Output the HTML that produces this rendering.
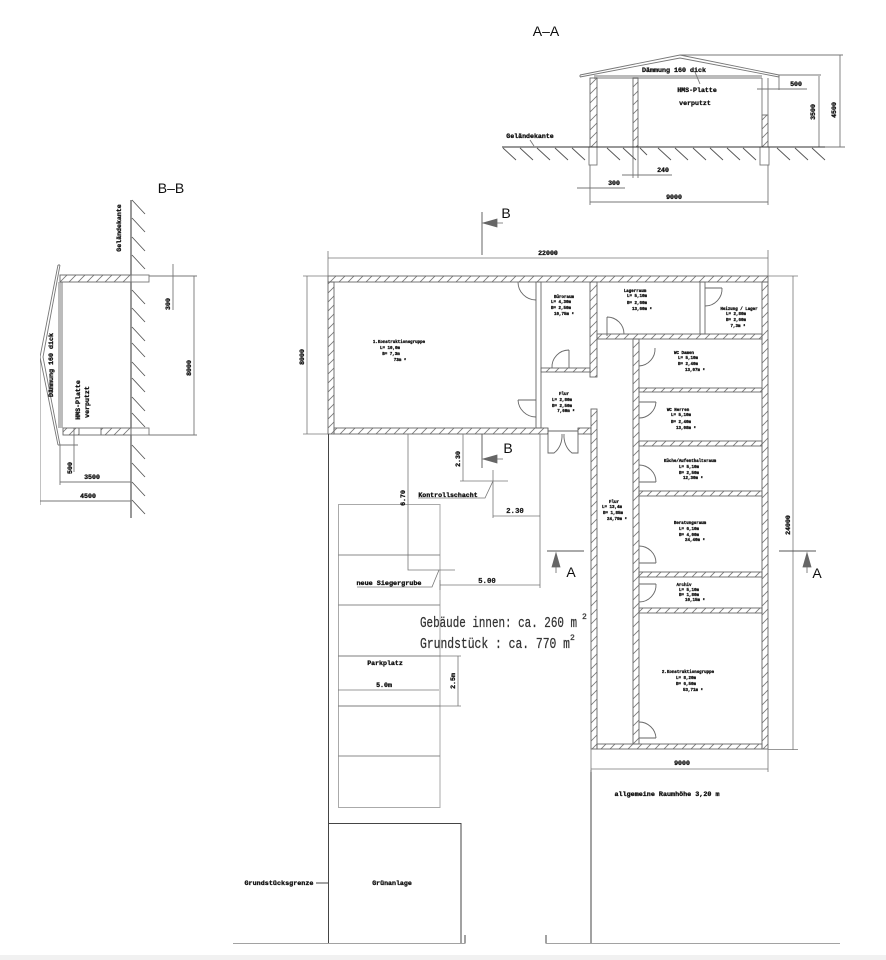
<!DOCTYPE html>
<html><head><meta charset="utf-8"><style>
html,body{margin:0;padding:0;background:#fff}
svg{display:block}
text{font-family:"Liberation Mono",monospace;font-weight:bold;fill:#111;text-anchor:middle}
.s{font-size:6.6px;stroke:#111;stroke-width:.3}
.t{font-size:4.15px;stroke:#111;stroke-width:.3}
.d{font-size:7.4px;stroke:#333;stroke-width:.25}
.b{font-family:"Liberation Sans",sans-serif;font-weight:normal;font-size:14px}
.m{font-weight:normal;font-size:15px;text-anchor:start;fill:#333;stroke:#333;stroke-width:.25}
</style></head><body>
<svg width="886" height="960" viewBox="0 0 886 960" xmlns="http://www.w3.org/2000/svg">
<defs>
<pattern id="h" width="9" height="9" patternUnits="userSpaceOnUse"><path d="M0 9L9 0M-1 1L1 -1M8 10L10 8" stroke="#777" stroke-width=".8"/></pattern>
<filter id="bl" x="0" y="0" width="100%" height="100%"><feGaussianBlur stdDeviation=".35"/></filter>
</defs>
<rect width="886" height="960" fill="#fff"/>
<rect y="955" width="886" height="5" fill="#f1f1f1"/>
<g filter="url(#bl)">
<!-- plan walls -->
<g fill="url(#h)" stroke="#666" stroke-width=".9">
<rect x="328" y="276" width="440" height="6"/>
<rect x="328" y="282" width="6" height="152"/>
<rect x="334" y="428" width="214" height="6"/>
<rect x="578" y="428" width="13" height="6"/>
<rect x="541" y="368" width="49" height="4"/>
<rect x="590" y="282" width="7" height="95"/>
<rect x="597" y="334" width="165" height="5"/>
<rect x="762" y="282" width="6" height="467"/>
<rect x="633" y="339" width="6" height="405"/>
<rect x="591" y="409" width="6" height="340"/>
<rect x="597" y="744" width="165" height="5"/>
<rect x="639" y="388" width="123" height="4"/>
<rect x="639" y="441" width="123" height="5"/>
<rect x="639" y="491" width="123" height="5"/>
<rect x="639" y="572" width="123" height="5"/>
<rect x="639" y="608" width="123" height="5"/>
</g>
<g fill="none" stroke="#666" stroke-width=".9">
<rect x="536" y="282" width="5" height="146"/>
<rect x="700" y="282" width="5" height="52"/>
<path d="M548 428V434M578 428V434M548 431H578"/>
<!-- doors -->
<path d="M518 282A18 18 0 0 0 536 300"/>
<path d="M518 400H536M518 400A18 18 0 0 0 536 417"/>
<path d="M569 350V368M569 350A17 17 0 0 0 552 368"/>
<path d="M607 317V336M607 317A17 17 0 0 1 624 334"/>
<path d="M705 288H722M722 288A17 17 0 0 1 705 306"/>
<path d="M655 348A17 17 0 0 1 639 366"/>
<path d="M639 402H656M656 402A17 17 0 0 1 639 418"/>
<path d="M639 482H656M656 482A17 17 0 0 0 639 465"/>
<path d="M639 563H656M656 563A17 17 0 0 0 639 546"/>
<path d="M639 584H656M656 584A17 17 0 0 1 639 602"/>
<path d="M639 738H656M656 738A17 17 0 0 0 639 722"/>
<path d="M548 434V453H554A16 20 0 0 0 562 434M578 434V453H572A16 20 0 0 1 564 434"/>
</g>
<!-- site -->
<g fill="none" stroke="#444" stroke-width="1">
<path d="M328.5 434V943M233 943.5H465V935M546 935V943.5H840M591 770V943M329 823.5H461V943M316 883H329"/>
</g>
<g fill="none" stroke="#aaa" stroke-width="1">
<rect x="338.500" y="504.500" width="101.500" height="303"/>
<path d="M338 555H440M338 605H440M338 656H440M338 706H440M338 756H440" stroke="#888"/>
</g>
<!-- dims -->
<g fill="none" stroke="#777" stroke-width=".8">
<path d="M328 258H768M328 251V276M768 250V276"/>
<path d="M307 276V434M303 276H328M303 434H328"/>
<path d="M793 276V750M768 276H798M768 749.500H798"/>
<path d="M591 769H768M591 749V772M768 749V772"/>
<path d="M408 434V570H455M439 570L432 587H357"/>
<path d="M463 434V481M460 481H508M493 470V518M493 516H540M540 434V588M493 481L485 498H418"/>
<path d="M440 585H540M440 580V590"/>
<path d="M338 690H439M458 656V706M338 656H461M338 706H461"/>
</g>
<!-- section markers -->
<g fill="none" stroke="#555" stroke-width=".9">
<path d="M482 212V255M482 434V468M547 551H584M779 551H816"/>
</g>
<g fill="#666" stroke="#666" stroke-width=".8">
<path d="M483 223L497 219V227ZM497 223H503"/>
<path d="M483 459L497 455V463ZM497 459H503"/>
<path d="M556 553L552 567H560ZM556 567V573"/>
<path d="M807 553L803 567H811ZM807 567V573"/>
</g>
<text class="b" x="506" y="218">B</text>
<text class="b" x="508" y="453">B</text>
<text class="b" x="571" y="577">A</text>
<text class="b" x="817" y="578">A</text>

<!-- A-A -->
<g fill="none" stroke="#777" stroke-width=".9">
<path d="M580 75L680 55L779 75M580 77L680 58L779 77M580 75V77M779 75V77"/>
</g>
<rect x="594" y="75" width="168" height="4" fill="#bbb"/>
<g fill="url(#h)" stroke="#666" stroke-width=".9">
<rect x="590" y="78" width="7" height="69"/>
<rect x="633" y="78" width="5" height="69"/>
<rect x="762" y="115" width="6" height="32"/>
</g>
<g fill="none" stroke="#777" stroke-width=".9">
<path d="M762 78V115M768 78V115"/>
<rect x="589" y="147" width="8" height="18"/>
<rect x="760" y="147" width="9" height="18"/>
<path d="M633 147V178M638 147V178"/>
<path d="M590 165V205M768 165V205M590 202H768"/>
<path d="M577 188H625M622 175H672"/>
<path d="M757 89H807M779 75V90M779 75H821M680 55H843M819 76V147M840 55V147"/>
<path d="M768 147H845"/>
<path d="M530 140L534 146M695 72L700 84"/>
</g>
<path d="M502 147H825" stroke="#333" stroke-width="1"/>
<path d="M503 148l13 12M520 148l13 12M537 148l13 12M555 148l13 12M572 148l13 12M607 148l13 12M623 148l13 12M640 148l7 7M658 148l13 12M675 148l13 12M693 148l13 12M710 148l13 12M727 148l13 12M743 148l13 12M777 148l13 12M795 148l13 12M812 148l13 12" stroke="#555" stroke-width=".9"/>

<text class="b" x="546" y="36">A–A</text>
<text class="s" x="674" y="72" textLength="64" lengthAdjust="spacingAndGlyphs">Dämmung 160 dick</text>
<text class="s" x="697" y="92">HMS-Platte</text>
<text class="s" x="695" y="105">verputzt</text>
<text class="s" x="796" y="86">500</text>
<text class="s" transform="translate(815,112) rotate(-90)">3500</text>
<text class="s" transform="translate(836,110) rotate(-90)">4500</text>
<text class="s" x="530" y="138">Geländekante</text>
<text class="s" x="663" y="172">240</text>
<text class="s" x="614" y="185">300</text>
<text class="s" x="674" y="199">9000</text>

<!-- B-B -->
<path d="M131 200V518" stroke="#333" stroke-width="1"/>
<path d="M132 200l13 14M132 218l13 14M132 237l13 14M132 255l13 14M132 290l13 14M132 308l13 14M132 327l13 14M132 343l13 14M132 362l13 14M132 378l13 14M132 397l13 14M132 413l13 14M132 445l13 14M132 463l13 14M132 482l13 14M132 500l13 14" stroke="#555" stroke-width=".9"/>
<g fill="none" stroke="#777" stroke-width=".9">
<path d="M58 265L40 357L58 445M60 265L43 357L60 445M58 265H60M58 445H60"/>
<rect x="131" y="275" width="18" height="7"/>
<rect x="131" y="428" width="18" height="7"/>
<path d="M149 276H197M149 435H197M173 264V310M194 276V435"/>
<path d="M74 428V472M58 445H78M60 445V485M40 357V505M60 482H131M40 501H131"/>
</g>
<rect x="58" y="282" width="5" height="146" fill="#bbb"/>
<g fill="url(#h)" stroke="#666" stroke-width=".9">
<rect x="60" y="275" width="71" height="7"/>
<rect x="63" y="428" width="16" height="7"/>
<rect x="101" y="428" width="30" height="7"/>
</g>
<path d="M79 428H101M79 435H101" stroke="#777" stroke-width=".9"/>
<text class="b" x="171" y="193">B–B</text>
<text class="s" transform="translate(121,228) rotate(-90)">Geländekante</text>
<text class="s" transform="translate(170,304) rotate(-90)">300</text>
<text class="s" transform="translate(191,368) rotate(-90)">8000</text>
<text class="s" transform="translate(53,365) rotate(-90)" textLength="64" lengthAdjust="spacingAndGlyphs">Dämmung 160 dick</text>
<text class="s" transform="translate(80,400) rotate(-90)">HMS-Platte</text>
<text class="s" transform="translate(89,402) rotate(-90)">verputzt</text>
<text class="s" transform="translate(72,468) rotate(-90)">500</text>
<text class="s" x="92" y="479">3500</text>
<text class="s" x="88" y="498">4500</text>

<!-- plan labels -->
<text class="s" x="548" y="255">22000</text>
<text class="s" transform="translate(304,357) rotate(-90)">8000</text>
<text class="s" transform="translate(790,525) rotate(-90)">24000</text>
<text class="s" x="682" y="765">9000</text>
<text class="s" x="667" y="796" textLength="105" lengthAdjust="spacingAndGlyphs">allgemeine Raumhöhe 3,20 m</text>

<text class="t" x="399" y="343">1.Konstruktionsgruppe</text>
<text class="t" x="390" y="349">L= 10,0m</text>
<text class="t" x="391" y="355">B= 7,3m</text>
<text class="t" x="400" y="361">73m ²</text>

<text class="t" x="564" y="298">Büroraum</text>
<text class="t" x="561" y="303">L= 4,30m</text>
<text class="t" x="561" y="309">B= 2,50m</text>
<text class="t" x="564" y="315">10,75m ²</text>

<text class="t" x="564" y="395">Flur</text>
<text class="t" x="562" y="401">L= 2,80m</text>
<text class="t" x="562" y="407">B= 2,50m</text>
<text class="t" x="566" y="412">7,60m ²</text>

<text class="t" x="635" y="292">Lagerraum</text>
<text class="t" x="637" y="297">L= 5,10m</text>
<text class="t" x="637" y="304">B= 2,60m</text>
<text class="t" x="642" y="310">13,60m ²</text>

<text class="t" x="739" y="310">Heizung / Lager</text>
<text class="t" x="736" y="315">L= 2,80m</text>
<text class="t" x="736" y="321">B= 2,60m</text>
<text class="t" x="738" y="327">7,3m ²</text>

<text class="t" x="684" y="354">WC Damen</text>
<text class="t" x="688" y="359">L= 5,10m</text>
<text class="t" x="688" y="365">B= 2,40m</text>
<text class="t" x="695" y="371">13,07m ²</text>

<text class="t" x="678" y="411">WC Herren</text>
<text class="t" x="681" y="416">L= 5,10m</text>
<text class="t" x="681" y="423">B= 2,40m</text>
<text class="t" x="686" y="429">13,08m ²</text>

<text class="t" x="690" y="462">Küche/Aufenthaltsraum</text>
<text class="t" x="689" y="468">L= 5,10m</text>
<text class="t" x="689" y="474">B= 2,50m</text>
<text class="t" x="693" y="479">12,30m ²</text>

<text class="t" x="690" y="524">Beratungsraum</text>
<text class="t" x="689" y="530">L= 6,10m</text>
<text class="t" x="689" y="536">B= 4,00m</text>
<text class="t" x="695" y="541">24,40m ²</text>

<text class="t" x="684" y="586">Archiv</text>
<text class="t" x="689" y="591">L= 5,10m</text>
<text class="t" x="689" y="596">B= 1,80m</text>
<text class="t" x="695" y="601">10,15m ²</text>

<text class="t" x="688" y="673">2.Konstruktionsgruppe</text>
<text class="t" x="686" y="679">L= 8,20m</text>
<text class="t" x="686" y="685">B= 6,50m</text>
<text class="t" x="693" y="691">53,71m ²</text>

<text class="t" x="614" y="503">Flur</text>
<text class="t" x="612" y="508">L= 13,4m</text>
<text class="t" x="613" y="514">B= 1,85m</text>
<text class="t" x="617" y="520">24,79m ²</text>

<text class="s" x="448" y="497">Kontrollschacht</text>
<text class="s" x="389" y="585" textLength="65" lengthAdjust="spacingAndGlyphs">neue Siegergrube</text>
<text class="s" transform="translate(405,498) rotate(-90)">6.70</text>
<text class="s" transform="translate(460,459) rotate(-90)">2.30</text>
<text class="d" x="515" y="513">2.30</text>
<text class="d" x="487" y="583">5.00</text>
<text class="m" x="420" y="627" textLength="157" lengthAdjust="spacingAndGlyphs">Gebäude innen: ca. 260 m</text>
<text class="m" style="font-size:8px" x="582" y="619">2</text>
<text class="m" x="420" y="648" textLength="150" lengthAdjust="spacingAndGlyphs">Grundstück : ca. 770 m</text>
<text class="m" style="font-size:8px" x="570" y="640">2</text>
<text class="s" x="385" y="665">Parkplatz</text>
<text class="s" x="384" y="687">5.0m</text>
<text class="s" transform="translate(455,681) rotate(-90)">2.5m</text>
<text class="s" x="279" y="885" textLength="69" lengthAdjust="spacingAndGlyphs">Grundstücksgrenze</text>
<text class="s" x="392" y="885">Grünanlage</text>
</g>
</svg>
</body></html>
